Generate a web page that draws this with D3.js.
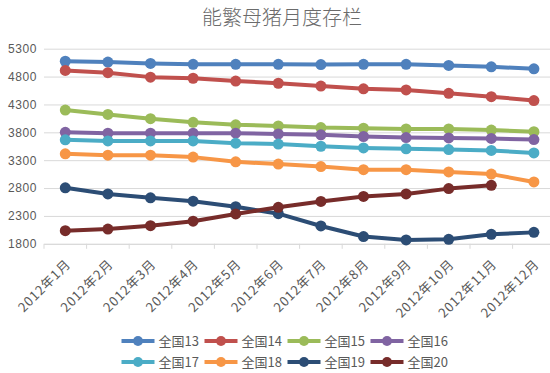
<!DOCTYPE html>
<html>
<head>
<meta charset="utf-8">
<script src="https://cdn.jsdelivr.net/npm/d3@7"></script>
<style>
  body { margin: 0; background: #fff; }
  text { font-family: "Liberation Sans", "Noto Sans CJK SC", sans-serif; }
</style>
</head>
<body>
<div id="chart"></div>
<script>
// Data
const months = ['2012年1月', '2012年2月', '2012年3月', '2012年4月', '2012年5月', '2012年6月',
  '2012年7月', '2012年8月', '2012年9月', '2012年10月', '2012年11月', '2012年12月']
const seriesNames = ['全国13', '全国14', '全国15', '全国16', '全国17', '全国18', '全国19', '全国20']
const s13 = [5075, 5060, 5035, 5020, 5020, 5020, 5015, 5020, 5020, 5000, 4975, 4940]
const s14 = [4910, 4870, 4790, 4770, 4720, 4680, 4630, 4580, 4560, 4500, 4440, 4370]
const s15 = [4200, 4120, 4045, 3980, 3935, 3915, 3885, 3875, 3860, 3860, 3840, 3810]
const s16 = [3800, 3785, 3785, 3785, 3785, 3770, 3755, 3725, 3705, 3700, 3690, 3670]
const s17 = [3665, 3645, 3645, 3645, 3605, 3590, 3550, 3520, 3505, 3490, 3475, 3430]
const s18 = [3415, 3390, 3390, 3355, 3270, 3230, 3185, 3130, 3130, 3090, 3050, 2910]
const s19 = [2805, 2695, 2625, 2565, 2465, 2340, 2120, 1930, 1870, 1880, 1970, 2005]
const s20 = [2035, 2065, 2125, 2205, 2335, 2455, 2560, 2650, 2695, 2790, 2850, null]
const yTicks = [1800, 2300, 2800, 3300, 3800, 4300, 4800, 5300]
const colors = ['#4F81BD', '#C0504D', '#9BBB59', '#8064A2', '#4BACC6', '#F79646', '#2C4D75', '#772C2A']

const series = [s13, s14, s15, s16, s17, s18, s19, s20].map((values, i) => ({
  name: seriesNames[i],
  color: colors[i],
  values: values
}))

// Dimensions
const width = 550
const height = 373

const svg = d3.select('#chart')
  .append('svg')
  .attr('width', width)
  .attr('height', height)

// Scales
const x = d3.scaleBand()
  .domain(months)
  .range([44, 44 + 12 * 42.6])

const y = d3.scaleLinear()
  .domain([1800, 5300])
  .range([243.8, 48.7])

// Title
svg.append('text')
  .attr('x', 282)
  .attr('y', 25)
  .attr('text-anchor', 'middle')
  .attr('fill', '#6b6b6b')
  .style('font-family', '"Noto Sans CJK SC", sans-serif')
  .style('font-weight', 300)
  .style('font-size', '20px')
  .text('能繁母猪月度存栏')

// Gridlines + y labels
const yAxis = svg.append('g')
  .attr('transform', 'translate(44,0)')
  .call(d3.axisLeft(y).tickValues(yTicks).tickFormat(d3.format('d')).tickSize(-(width - 44)).tickPadding(7))
yAxis.select('.domain').remove()
yAxis.selectAll('.tick line').attr('stroke', '#D9D9D9')
yAxis.selectAll('.tick text')
  .attr('fill', '#595959')
  .style('font-size', '12px')
  .style('letter-spacing', '0.6px')

// X axis
const xAxis = svg.append('g')
  .attr('transform', `translate(0,${y(1800)})`)
  .call(d3.axisBottom(x).tickSize(0))
xAxis.select('.domain').attr('stroke', '#D9D9D9')
xAxis.selectAll('.tick text')
  .attr('fill', '#595959')
  .style('font-size', '13px')
  .style('letter-spacing', '0.8px')
  .style('font-family', '"Noto Sans CJK SC", sans-serif')
  .attr('text-anchor', 'end')
  .attr('y', 0)
  .attr('dy', '0.35em')
  .attr('transform', 'translate(3,18) rotate(-45)')

// tick marks between categories
svg.append('g')
  .selectAll('line')
  .data(months)
  .join('line')
  .attr('x1', d => x(d))
  .attr('x2', d => x(d))
  .attr('y1', y(1800))
  .attr('y2', y(1800) + 5)
  .attr('stroke', '#D9D9D9')

// Lines
const line = d3.line()
  .defined(d => d != null)
  .x((d, i) => x(months[i]) + x.bandwidth() / 2)
  .y(d => y(d))

const group = svg.append('g')
  .selectAll('g')
  .data(series)
  .join('g')

group.append('path')
  .attr('d', d => line(d.values))
  .attr('fill', 'none')
  .attr('stroke', d => d.color)
  .attr('stroke-width', 4)
  .attr('stroke-linejoin', 'round')

group.selectAll('circle')
  .data(d => d.values.map((v, i) => ({ v, i, color: d.color })).filter(p => p.v != null))
  .join('circle')
  .attr('cx', p => x(months[p.i]) + x.bandwidth() / 2)
  .attr('cy', p => y(p.v))
  .attr('r', 5.5)
  .attr('fill', p => p.color)

// Legend
const legend = svg.append('g')
  .selectAll('g')
  .data(series)
  .join('g')
  .attr('transform', (d, i) => `translate(${121.5 + (i % 4) * 83},${i < 4 ? 341 : 362})`)

legend.append('line')
  .attr('x1', 0)
  .attr('x2', 33)
  .attr('stroke', d => d.color)
  .attr('stroke-width', 4)

legend.append('circle')
  .attr('cx', 16.5)
  .attr('r', 5)
  .attr('fill', d => d.color)

legend.append('text')
  .attr('x', 37)
  .attr('dy', '0.35em')
  .attr('fill', '#595959')
  .style('font-size', '13px')
  .style('font-family', '"Noto Sans CJK SC", sans-serif')
  .text(d => d.name)
</script>
</body>
</html>
